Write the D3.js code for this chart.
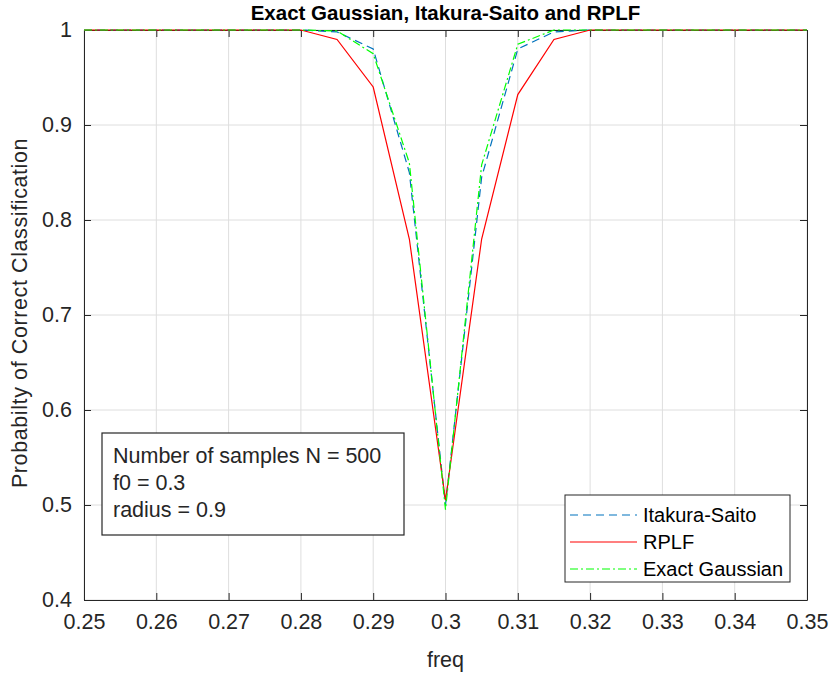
<!DOCTYPE html>
<html>
<head>
<meta charset="utf-8">
<script src="https://cdn.jsdelivr.net/npm/d3@7/dist/d3.min.js"></script>
<style>
  body { margin: 0; background: #fff; }
  svg { display: block; font-family: "Liberation Sans", Arial, Helvetica, sans-serif; }
</style>
</head>
<body>
<div id="chart"></div>
<script>
const freq = [0.25, 0.255, 0.26, 0.265, 0.27, 0.275, 0.28, 0.285, 0.29, 0.295, 0.3,
              0.305, 0.31, 0.315, 0.32, 0.325, 0.33, 0.335, 0.34, 0.345, 0.35];
const itakuraSaito = [1, 1, 1, 1, 1, 1, 1, 0.998, 0.980, 0.850, 0.500,
                      0.845, 0.980, 0.998, 1, 1, 1, 1, 1, 1, 1];
const rplf = [1, 1, 1, 1, 1, 1, 1, 0.990, 0.940, 0.780, 0.505,
              0.780, 0.932, 0.990, 1, 1, 1, 1, 1, 1, 1];
const exactGaussian = [1, 1, 1, 1, 1, 1, 1, 0.999, 0.975, 0.860, 0.495,
                       0.858, 0.985, 1, 1, 1, 1, 1, 1, 1, 1];
const xTicks = [0.25, 0.26, 0.27, 0.28, 0.29, 0.3, 0.31, 0.32, 0.33, 0.34, 0.35];
const yTicks = [0.4, 0.5, 0.6, 0.7, 0.8, 0.9, 1];
const infoLines = ["Number of samples N = 500", "f0 = 0.3", "radius = 0.9"];

const series = [
  {name: "Itakura-Saito", values: itakuraSaito, color: "#0072BD", dash: "8,5"},
  {name: "RPLF", values: rplf, color: "#ff0000", dash: null},
  {name: "Exact Gaussian", values: exactGaussian, color: "#00ff00", dash: "8,3,2,3"}
];

const width = 833, height = 677;
const margin = {top: 30, right: 26, bottom: 77, left: 84};
const innerW = width - margin.left - margin.right;
const innerH = height - margin.top - margin.bottom;

const svg = d3.select("#chart").append("svg")
    .attr("width", width)
    .attr("height", height);

const g = svg.append("g")
    .attr("transform", `translate(${margin.left},${margin.top})`);

const x = d3.scaleLinear().domain([0.25, 0.35]).range([0, innerW]);
const y = d3.scaleLinear().domain([0.4, 1]).range([innerH, 0]);

// grid
g.append("g").selectAll("line")
    .data(xTicks)
    .enter().append("line")
    .attr("x1", d => x(d)).attr("x2", d => x(d))
    .attr("y1", 0).attr("y2", innerH)
    .attr("stroke", "#dedede");
g.append("g").selectAll("line")
    .data(yTicks)
    .enter().append("line")
    .attr("y1", d => y(d)).attr("y2", d => y(d))
    .attr("x1", 0).attr("x2", innerW)
    .attr("stroke", "#dedede");

// axes
g.append("g")
    .attr("transform", `translate(0,${innerH})`)
    .call(d3.axisBottom(x).tickValues(xTicks).tickFormat(d3.format("~g")).tickSizeInner(-7).tickSizeOuter(0).tickPadding(14));
g.append("g")
    .call(d3.axisLeft(y).tickValues(yTicks).tickFormat(d3.format("~g")).tickSizeInner(-7).tickSizeOuter(0).tickPadding(12));
g.append("g")
    .call(d3.axisTop(x).tickValues(xTicks).tickFormat("").tickSizeInner(-7).tickSizeOuter(0));
g.append("g")
    .attr("transform", `translate(${innerW},0)`)
    .call(d3.axisRight(y).tickValues(yTicks).tickFormat("").tickSizeInner(-7).tickSizeOuter(0));

g.selectAll(".domain").attr("stroke", "#262626");
g.selectAll(".tick line").attr("stroke", "#262626");
g.selectAll(".tick text")
    .style("font-size", "21.5px")
    .style("fill", "#262626");

// lines
const line = d3.line()
    .x((d, i) => x(freq[i]))
    .y(d => y(d));

series.forEach(s => {
  g.append("path")
      .datum(s.values)
      .attr("fill", "none")
      .attr("stroke", s.color)
      .attr("stroke-width", 1.2)
      .attr("stroke-dasharray", s.dash)
      .attr("d", line);
});

// title and labels
svg.append("text")
    .attr("x", margin.left + innerW / 2)
    .attr("y", 20)
    .attr("text-anchor", "middle")
    .style("font-size", "20.5px")
    .style("font-weight", "bold")
    .style("fill", "#000")
    .text("Exact Gaussian, Itakura-Saito and RPLF");

svg.append("text")
    .attr("x", margin.left + innerW / 2)
    .attr("y", 667)
    .attr("text-anchor", "middle")
    .style("font-size", "21.5px")
    .style("fill", "#262626")
    .text("freq");

svg.append("text")
    .attr("transform", "rotate(-90)")
    .attr("x", -(margin.top + innerH / 2) + 2)
    .attr("y", 27)
    .attr("text-anchor", "middle")
    .style("font-size", "21.5px")
    .style("letter-spacing", "0.6px")
    .style("fill", "#262626")
    .text("Probabilty of Correct Classification");

// info box
const info = svg.append("g").attr("transform", "translate(102,433)");
info.append("rect")
    .attr("width", 302).attr("height", 102)
    .attr("fill", "#fff")
    .attr("stroke", "#262626")
    .attr("stroke-width", 1.2);
info.selectAll("text")
    .data(infoLines)
    .enter().append("text")
    .attr("x", 11)
    .attr("y", (d, i) => 30 + i * 27)
    .style("font-size", "21.5px")
    .style("fill", "#262626")
    .text(d => d);

// legend
const legend = svg.append("g").attr("transform", "translate(565,495)");
legend.append("rect")
    .attr("width", 225).attr("height", 87)
    .attr("fill", "#fff")
    .attr("stroke", "#262626")
    .attr("stroke-width", 1);
const items = legend.selectAll(".item")
    .data(series)
    .enter().append("g")
    .attr("transform", (d, i) => `translate(0,${20 + i * 27})`);
items.append("line")
    .attr("x1", 5).attr("x2", 72)
    .attr("stroke", d => d.color)
    .attr("stroke-width", 1.2)
    .attr("stroke-dasharray", d => d.dash);
items.append("text")
    .attr("x", 78)
    .attr("y", 7)
    .style("font-size", "20px")
    .style("fill", "#000")
    .text(d => d.name);
</script>
</body>
</html>
